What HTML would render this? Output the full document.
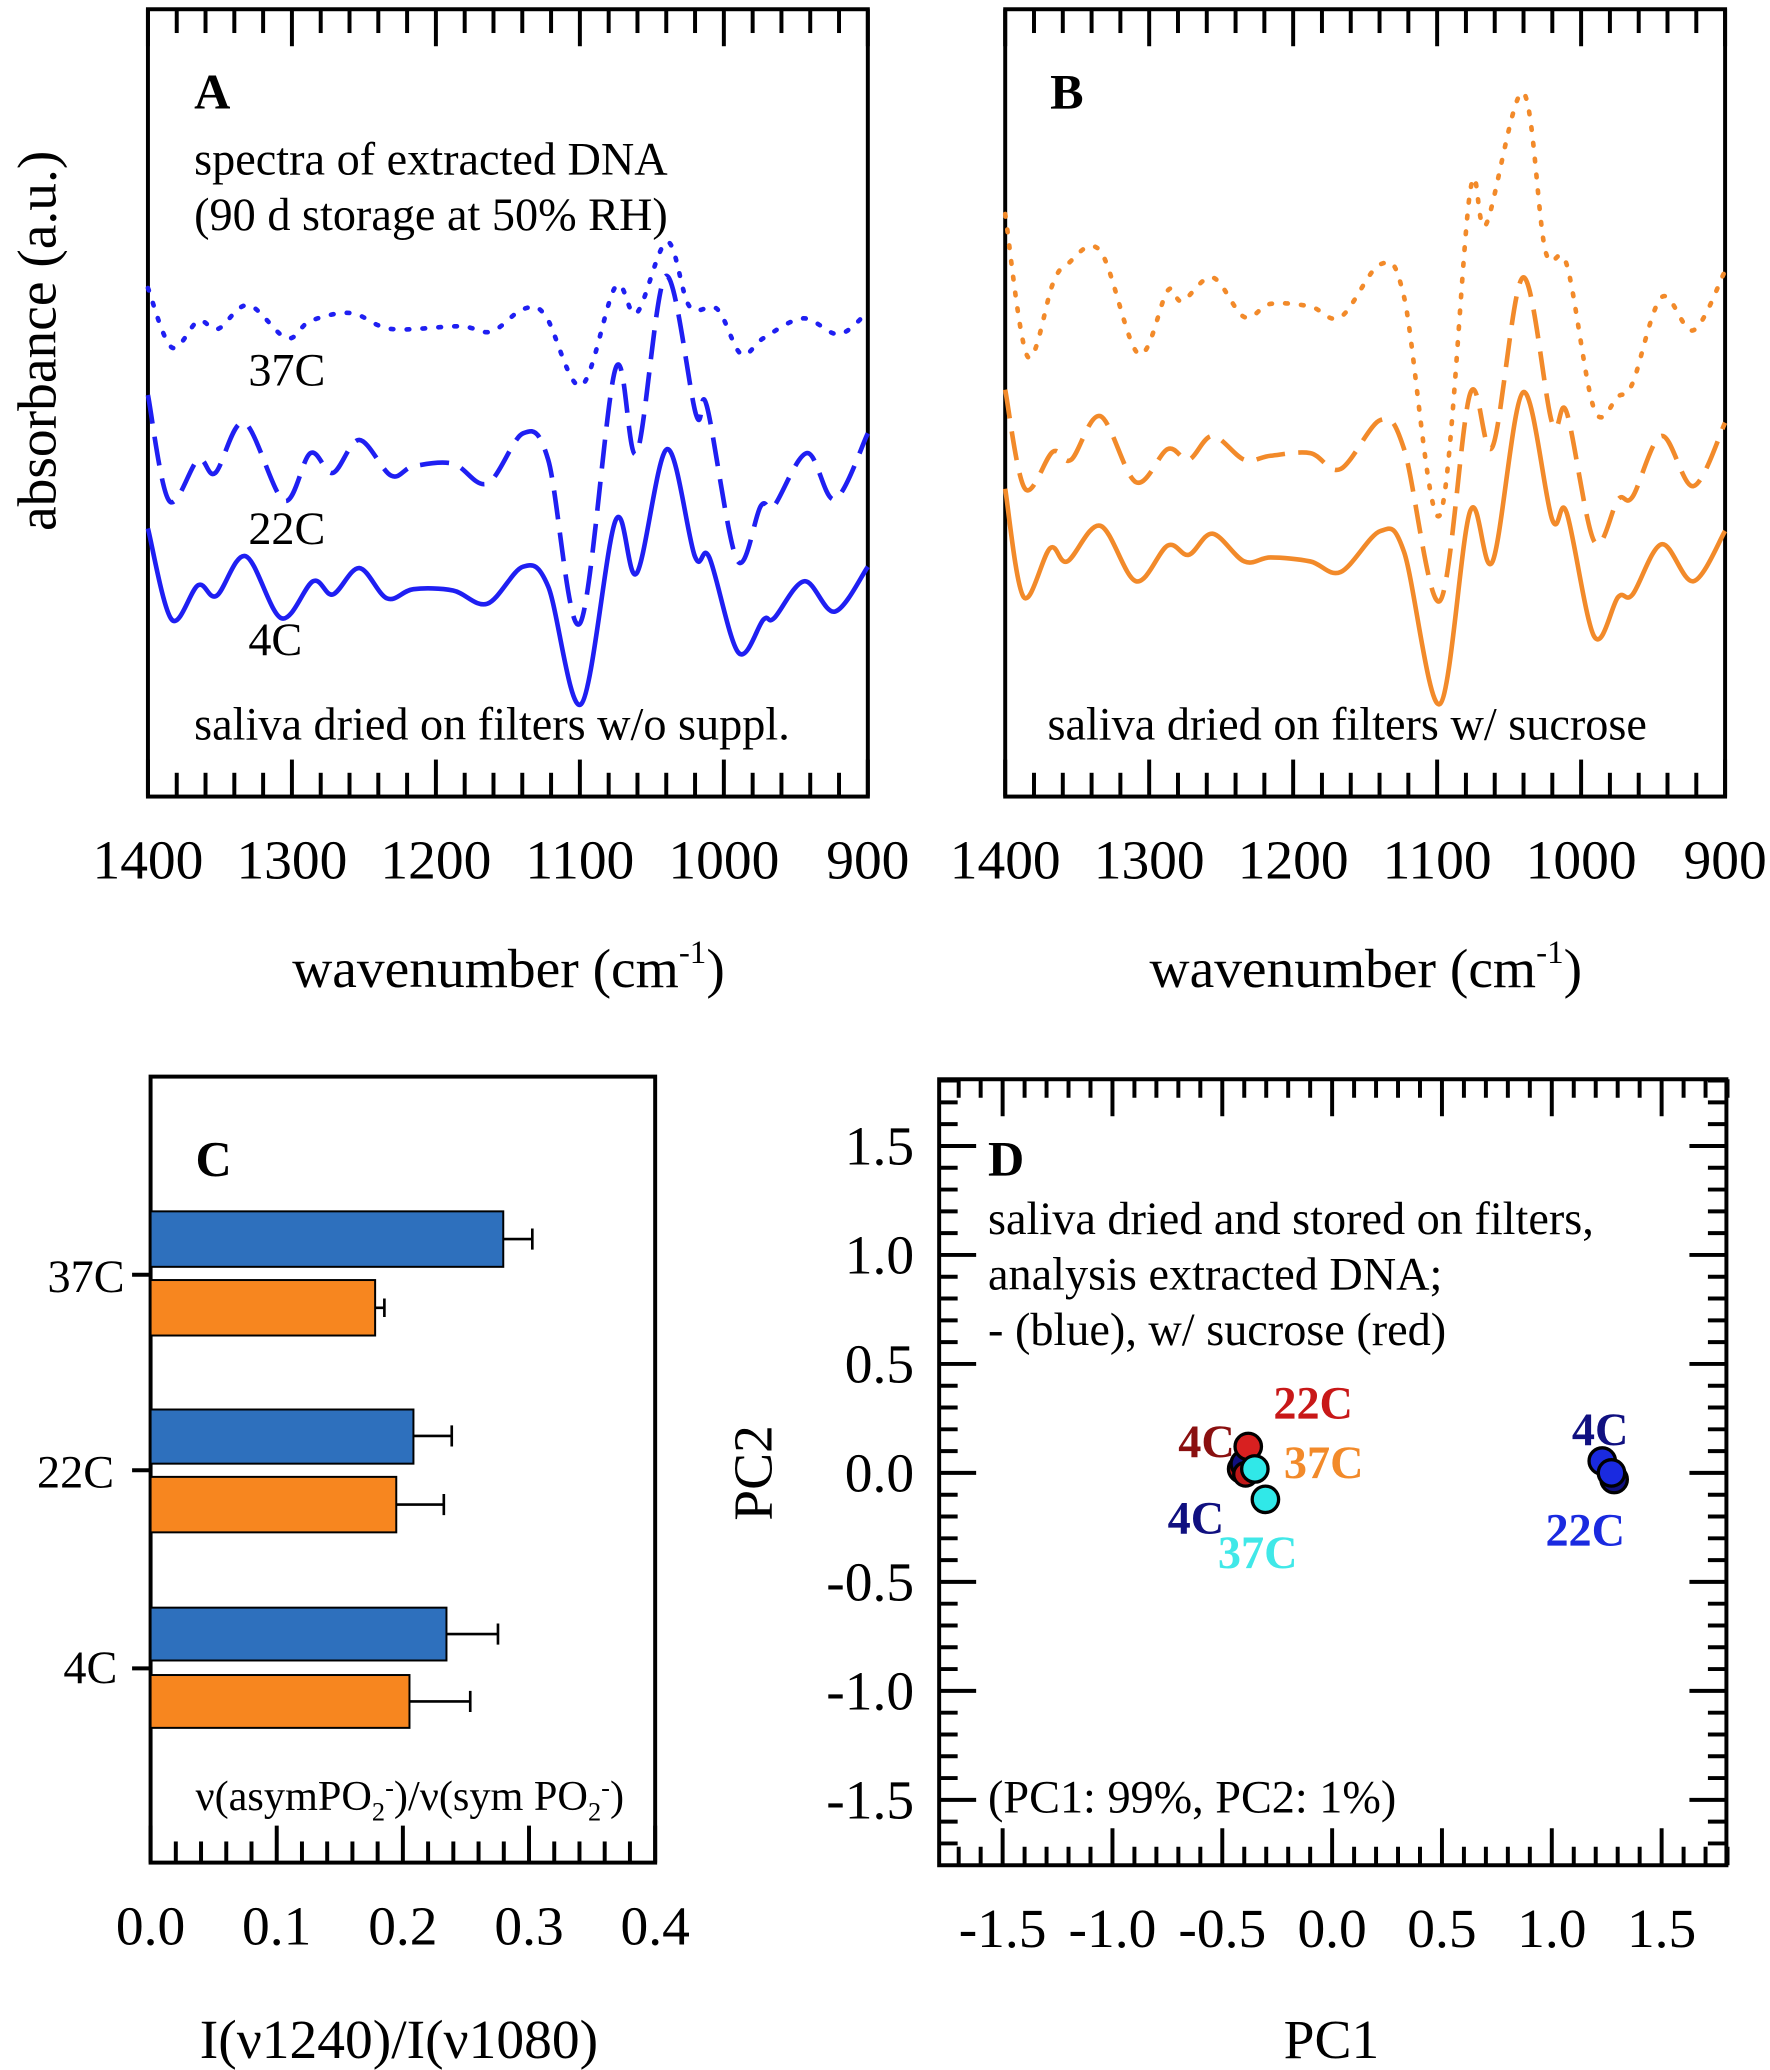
<!DOCTYPE html>
<html><head><meta charset="utf-8"><style>html,body{margin:0;padding:0;background:#fff}svg{display:block}text{font-family:"Liberation Serif",serif}</style></head>
<body>
<svg id="s" width="1770" height="2070" viewBox="0 0 1340 1567" preserveAspectRatio="none" xmlns="http://www.w3.org/2000/svg">
<rect width="1340" height="1567" fill="#fff"/>
<g id="g"></g>
<g font-size="35">
<text x="147" y="82" font-size="38" font-weight="bold">A</text>
<text x="147" y="132">spectra of extracted DNA</text>
<text x="147" y="174">(90 d storage at 50% RH)</text>
<text x="188" y="292">37C</text>
<text x="188" y="412">22C</text>
<text x="188" y="496">4C</text>
<text x="147" y="560">saliva dried on filters w/o suppl.</text>
<text x="795" y="82" font-size="38" font-weight="bold">B</text>
<text x="793" y="560">saliva dried on filters w/ sucrose</text>
</g>
<g font-size="42" text-anchor="middle">
<text x="385" y="747">wavenumber (cm<tspan font-size="25" dy="-18">-1</tspan><tspan dy="18">)</tspan></text>
<text x="1034" y="747">wavenumber (cm<tspan font-size="25" dy="-18">-1</tspan><tspan dy="18">)</tspan></text>
<text transform="translate(42,258) rotate(-90)">absorbance (a.u.)</text>
<text x="302" y="1558">I(ν1240)/I(ν1080)</text>
<text x="1008" y="1558">PC1</text>
<text transform="translate(584,1115) rotate(-90)">PC2</text>
</g>
<g id="curves" fill="none" stroke-width="3.5" stroke-linejoin="round">
<polyline class="c" stroke="#1f1ff2" points="112,400 130,469 150,443 164,451 186,421 213,468 237,440 252,450 272,430 293,453 313,446 343,447 369,457 396,429 415,444 440,533 466,394 482,434 505,340 526,421 537,422 559,494 578,469 586,468 609,440 632,463 657,429"/>
<polyline class="c" stroke="#1f1ff2" stroke-dasharray="22 10" points="112,299 128,379 150,348 163,358 185,320 215,379 235,343 252,358 272,333 296,360 313,353 343,351 369,366 396,328 415,348 439,472 466,279 482,343 504,209 527,314 535,307 558,424 576,383 586,383 611,343 632,378 657,328"/>
<polyline class="c" stroke="#1f1ff2" stroke-dasharray="2 10" stroke-linecap="round" points="112,218 130,263 150,243 165,249 188,231 217,256 235,243 266,237 296,249 348,247 372,251 396,234 413,239 440,292 466,217 482,237 505,183 522,232 543,234 561,268 578,256 608,241 635,253 657,236"/>
<polyline class="c" stroke="#f28a2a" points="761,370 775,452 795,415 808,425 833,398 860,440 884,413 900,420 918,404 942,425 962,422 992,425 1015,433 1045,402 1063,418 1090,533 1113,387 1130,425 1153,297 1175,393 1186,388 1207,482 1225,452 1236,450 1258,412 1282,440 1306,402"/>
<polyline class="c" stroke="#f28a2a" stroke-dasharray="22 10" points="761,295 776,370 797,342 811,348 833,315 860,365 884,340 900,348 918,330 942,348 962,345 992,343 1015,355 1045,318 1063,340 1090,455 1113,298 1130,338 1153,210 1175,320 1186,312 1207,410 1225,378 1236,376 1258,330 1282,368 1306,320"/>
<polyline class="c" stroke="#f28a2a" stroke-dasharray="2 10" stroke-linecap="round" points="761,162 778,270 797,215 808,200 833,190 862,268 884,220 895,228 918,210 942,240 962,230 992,232 1015,240 1045,200 1063,225 1090,390 1113,145 1125,170 1153,70 1170,190 1186,200 1207,310 1225,300 1236,290 1258,225 1282,250 1306,205"/>
</g>
<g stroke="#000" stroke-width="1.5">
<rect x="114" y="917" width="267" height="42" fill="#2e70bd"/>
<rect x="114" y="969" width="170" height="42" fill="#f7861f"/>
<rect x="114" y="1067" width="199" height="41" fill="#2e70bd"/>
<rect x="114" y="1118" width="186" height="42" fill="#f7861f"/>
<rect x="114" y="1217" width="224" height="40" fill="#2e70bd"/>
<rect x="114" y="1268" width="196" height="40" fill="#f7861f"/>
</g>
<g stroke="#000" stroke-width="2" fill="none">
<path d="M381,938H403M403,930V946M284,990H291M291,983V997M313,1087H342M342,1079V1095M300,1139H336M336,1131V1147M338,1237H377M377,1229V1245M310,1288H356M356,1280V1296"/>
</g>
<g font-size="35">
<text x="148" y="890" font-size="38" font-weight="bold">C</text>
<text x="148" y="1370" font-size="32">ν(asymPO<tspan font-size="20" dy="8">2</tspan><tspan font-size="20" dy="-18">-</tspan><tspan dy="10">)/ν(sym PO</tspan><tspan font-size="20" dy="8">2</tspan><tspan font-size="20" dy="-18">-</tspan><tspan dy="10">)</tspan></text>
<text x="36" y="978">37C</text>
<text x="28" y="1126">22C</text>
<text x="48" y="1274">4C</text>
</g>
<g font-size="35">
<text x="748" y="890" font-size="38" font-weight="bold">D</text>
<text x="748" y="934">saliva dried and stored on filters,</text>
<text x="748" y="976">analysis extracted DNA;</text>
<text x="748" y="1018">- (blue), w/ sucrose (red)</text>
<text x="748" y="1372">(PC1: 99%, PC2: 1%)</text>
</g>
<g stroke="#000" stroke-width="2.5">
<circle cx="940" cy="1112" r="10" fill="#b01010"/>
<circle cx="942" cy="1108" r="10" fill="#101080"/>
<circle cx="945" cy="1095" r="10" fill="#d82020"/>
<circle cx="943" cy="1116" r="9" fill="#c01818"/>
<circle cx="950" cy="1112" r="10" fill="#30e8e8"/>
<circle cx="958" cy="1135" r="10" fill="#30e8e8"/>
<circle cx="1222" cy="1120" r="10" fill="#101080"/>
<circle cx="1213" cy="1106" r="10" fill="#1a2ae0"/>
<circle cx="1220" cy="1115" r="10" fill="#1a2ae0"/>
</g>
<g font-size="35" font-weight="bold">
<text x="964" y="1074" fill="#c81818">22C</text>
<text x="892" y="1103" fill="#8a1010">4C</text>
<text x="972" y="1119" fill="#f28a2a">37C</text>
<text x="884" y="1161" fill="#101080">4C</text>
<text x="922" y="1187" fill="#40e8e8">37C</text>
<text x="1190" y="1094" fill="#101080">4C</text>
<text x="1170" y="1170" fill="#1a2ae0">22C</text>
</g>
</svg>
<script>
var g=document.getElementById('g'),h='';
function L(x1,y1,x2,y2){h+='<line x1="'+x1+'" y1="'+y1+'" x2="'+x2+'" y2="'+y2+'" stroke="#000" stroke-width="3"/>';}
function T(x,y,s,a,fs){h+='<text x="'+x+'" y="'+y+'" font-size="'+(fs||42)+'" text-anchor="'+(a||'middle')+'">'+s+'</text>';}
function R(x,y,w,hh){h+='<rect x="'+x+'" y="'+y+'" width="'+w+'" height="'+hh+'" fill="none" stroke="#000" stroke-width="3"/>';}
[112,761].forEach(function(x0){
 R(x0,7,545,596);
 for(var w=1400;w>=900;w-=20){var x=x0+(1400-w)*1.09,maj=(w%100==0),l=maj?28:18;L(x,7,x,7+l);L(x,603,x,603-l);if(maj)T(x,665,w);}
});
R(114,815,382,595);
for(var i=0;i<=20;i++){var v=i*0.02,x=114+v*955,maj=(i%5==0),l=maj?28:16;L(x,1410,x,1410-l);if(maj)T(x,1472,v.toFixed(1));}
[965,1113,1263].forEach(function(y){L(100,y,114,y);});
R(711,817,596,595);
for(var i=-17;i<=18;i++){var v=i/10,x=1008.5+v*166.3,maj=(i%5==0),l=maj?28:14;L(x,817,x,817+l);L(x,1412,x,1412-l);if(maj)T(x,1474,v.toFixed(1));}
for(var i=-17;i<=18;i++){var v=i/10,y=1115-v*165,maj=(i%5==0),l=maj?28:14;L(711,y,711+l,y);L(1307,y,1307-l,y);if(maj)T(692,y+14,v.toFixed(1),'end');}
g.innerHTML=h;
// smooth polylines (Catmull-Rom)
document.querySelectorAll('polyline.c').forEach(function(pl){
 var p=pl.getAttribute('points').trim().split(/\s+/).map(function(s){return s.split(',').map(Number);});
 var d='M'+p[0][0]+','+p[0][1];
 for(var i=0;i<p.length-1;i++){
  var p0=p[i-1]||p[i],p1=p[i],p2=p[i+1],p3=p[i+2]||p2;
  var c1=[p1[0]+(p2[0]-p0[0])/6,p1[1]+(p2[1]-p0[1])/6],c2=[p2[0]-(p3[0]-p1[0])/6,p2[1]-(p3[1]-p1[1])/6];
  d+='C'+c1[0].toFixed(1)+','+c1[1].toFixed(1)+' '+c2[0].toFixed(1)+','+c2[1].toFixed(1)+' '+p2[0]+','+p2[1];
 }
 var path=document.createElementNS('http://www.w3.org/2000/svg','path');
 ['stroke','stroke-dasharray','stroke-linecap'].forEach(function(a){if(pl.getAttribute(a))path.setAttribute(a,pl.getAttribute(a));});
 path.setAttribute('d',d);pl.parentNode.replaceChild(path,pl);
});
</script>
</body></html>
